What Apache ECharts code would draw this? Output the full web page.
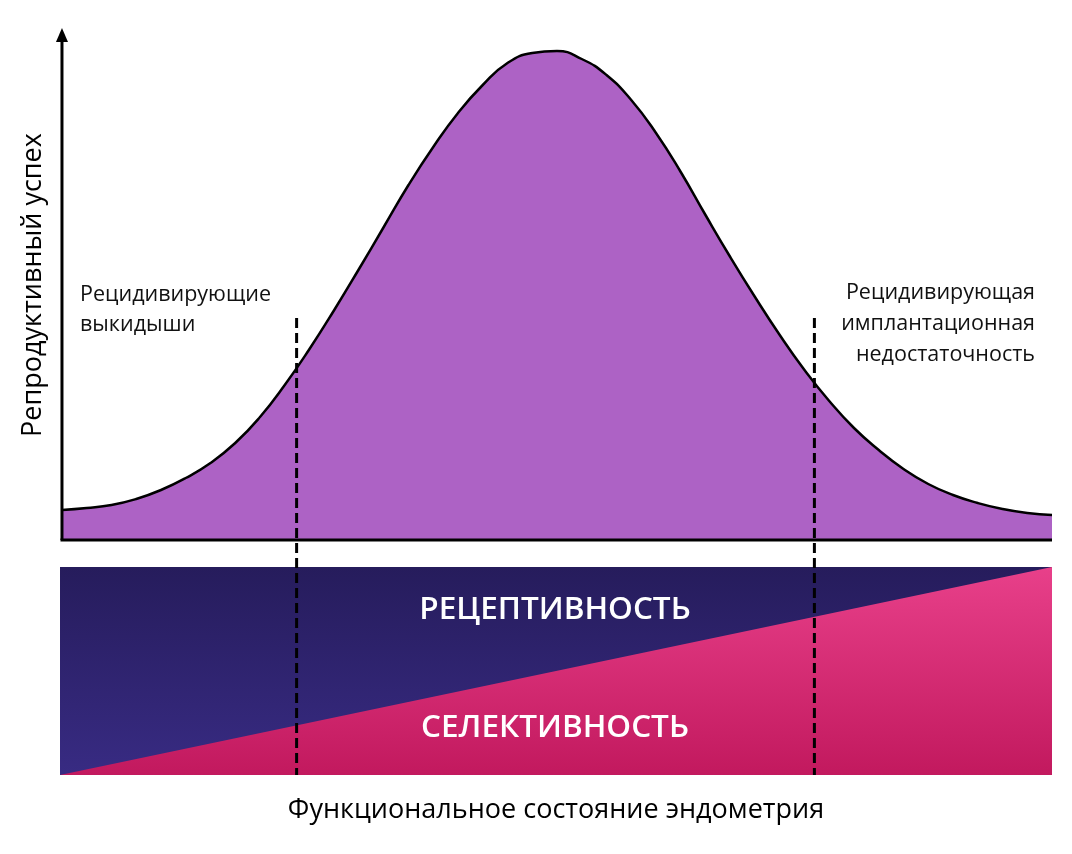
<!DOCTYPE html>
<html><head><meta charset="utf-8">
<script src="https://cdn.jsdelivr.net/npm/echarts@6/dist/echarts.min.js"></script>
<style>html,body{margin:0;padding:0;background:#fff}#c{width:1072px;height:854px}</style>
</head><body><div id="c"></div>
<script>
// Curve: functional state (0..100) vs reproductive success (height above baseline)
const stateX = [0,2.5,5,7.5,10,12.5,15,17.5,20,22.5,25,27.5,30,32.5,35,37.5,40,42.5,45,47.5,50,52.5,55,57.5,60,62.5,65,67.5,70,72.5,75,77.5,80,82.5,85,87.5,90,92.5,95,97.5,100];
const success = [30,32,35,41,50,62,77,97,123,155,191,230,271,313,355,393,427,455,477,487,489,481,465,440,407,368,325,283,243,205,170,139,112,90,71,56,45,37,31,27,25];
// Thresholds (dashed lines)
const thresholds = [23.7, 76.0];
const thresholdTop = 222;
// Bottom panel band (receptivity / selectivity)
const panelX = [-0.2, 100];
const panelTop = -27;
const panelBottom = -235;
const selectivityY = [panelBottom, panelTop];
const receptivityY = [panelTop, panelTop];
const labels = {
  yName: 'Репродуктивный успех',
  xName: 'Функциональное состояние эндометрия',
  left: ['Рецидивирующие', 'выкидыши'],
  right: ['Рецидивирующая', 'имплантационная', 'недостаточность'],
  rec: 'РЕЦЕПТИВНОСТЬ',
  sel: 'СЕЛЕКТИВНОСТЬ'
};

const chart = echarts.init(document.getElementById('c'));
const FONT = '"Open Sans", "Noto Sans", sans-serif';
const series = [];
series.push({
  type:'line', data: panelX.map((x,i)=>[x, receptivityY[i]]), symbol:'none',
  lineStyle:{width:0}, silent:true,
  areaStyle:{origin:'start', opacity:1, color:new echarts.graphic.LinearGradient(0,0,0,1,[{offset:0,color:'#261c5c'},{offset:1,color:'#382b83'}])},
  z:1
});
series.push({
  type:'line', data: panelX.map((x,i)=>[x, selectivityY[i]]), symbol:'none',
  lineStyle:{width:0}, silent:true,
  areaStyle:{origin:'start', opacity:1, color:new echarts.graphic.LinearGradient(0,0,0,1,[{offset:0,color:'#e8408a'},{offset:1,color:'#c2195e'}])},
  z:2
});
series.push({
  type:'line', data: stateX.map((x,i)=>[x, success[i]]), smooth:0.5, symbol:'none',
  lineStyle:{color:'#000', width:2.5},
  areaStyle:{origin:'auto', opacity:1, color:'#ad62c5'},
  z:3
});
// axis lines
series.push({
  type:'line', data:[[-0.15,0],[100,0]], symbol:'none', lineStyle:{color:'#000', width:3}, z:5
});
series.push({
  type:'line', data:[[0,0],{value:[0,505], symbol:'triangle', symbolSize:[12,14]}], symbol:'none',
  showSymbol:true, itemStyle:{color:'#000'}, lineStyle:{color:'#000', width:3}, z:5
});
thresholds.forEach(t=>{
  series.push({
    type:'line', data:[[t,thresholdTop],[t,panelBottom]], symbol:'none',
    lineStyle:{color:'#000', width:3, type:[10,5]}, z:6
  });
});

chart.setOption({
  animation:false,
  backgroundColor:'#fff',
  grid:{left:60, width:992, top:28, height:747},
  xAxis:{type:'value', min:-0.2, max:100, show:false},
  yAxis:{type:'value', min:-235, max:512, show:false},
  series,
  graphic:[
    {type:'text', x:33, y:285, rotation:Math.PI/2, z:10, style:{text:labels.yName, font:'27px '+FONT, fill:'#000', align:'center', verticalAlign:'middle'}},
    {type:'text', x:556, y:810, z:10, style:{text:labels.xName, font:'27px '+FONT, fill:'#000', align:'center', verticalAlign:'middle'}},
    {type:'text', x:80, y:310, z:10, style:{text:labels.left.join('\n'), font:'21.5px '+FONT, lineHeight:30, fill:'#111', align:'left', verticalAlign:'middle'}},
    {type:'text', x:1035, y:324, z:10, style:{text:labels.right.join('\n'), font:'21.5px '+FONT, lineHeight:31, fill:'#111', align:'right', verticalAlign:'middle'}},
    {type:'text', x:555, y:610, z:10, style:{text:labels.rec, font:'600 31.5px '+FONT, fill:'#fff', align:'center', verticalAlign:'middle'}},
    {type:'text', x:555, y:728, z:10, style:{text:labels.sel, font:'600 31.5px '+FONT, fill:'#fff', align:'center', verticalAlign:'middle'}}
  ]
});
</script></body></html>
